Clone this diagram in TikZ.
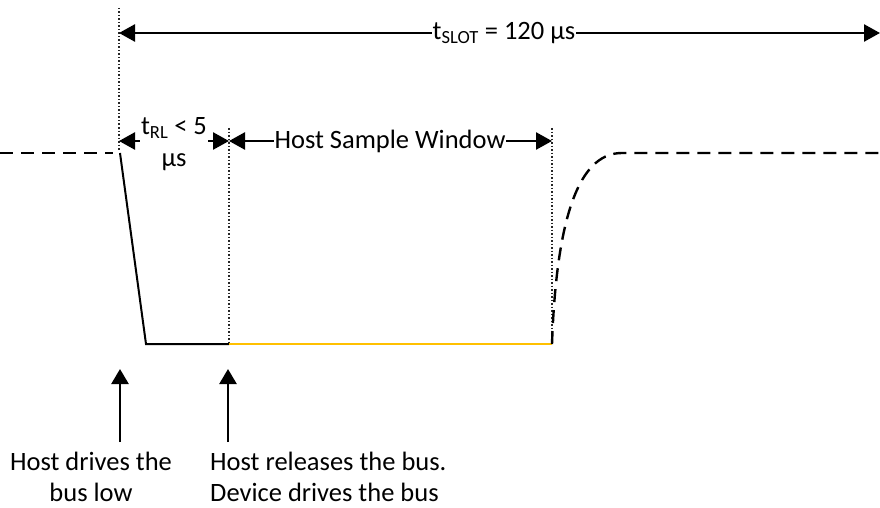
\documentclass[tikz,border=0pt]{standalone}
\usepackage{fontspec}
\setmainfont{Carlito}
\usetikzlibrary{arrows.meta}
\definecolor{lowgold}{HTML}{FFC000}
\tikzset{
  dimarrow/.style={line width=2.5pt,{Triangle[length=16pt,width=17pt]}-{Triangle[length=16pt,width=17pt]}},
  uparrow/.style={line width=2.5pt,-{Triangle[length=15pt,width=17pt]}},
  guide/.style={line width=1.5pt,dotted,black!85},
  highline/.style={line width=2.4pt,dash pattern=on 13pt off 8pt},
  wave/.style={line width=2pt},
  lbl/.style={font=\fontsize{26.5}{32}\selectfont,inner sep=1pt,fill=white},
  note/.style={font=\fontsize{26.5}{31}\selectfont,inner sep=0pt}
}
\begin{document}
\begin{tikzpicture}[x=1pt,y=-1pt]
\useasboundingbox (0,0) rectangle (880,508);
% coordinates
\coordinate (g1top) at (119,8);
\coordinate (g1bot) at (119,150);
\coordinate (g2top) at (229,128);
\coordinate (g2bot) at (229,344);
\coordinate (g3top) at (552,128);
\coordinate (g3bot) at (552,344);
\coordinate (hiL) at (0,153);
\coordinate (hiE) at (113,153);
\coordinate (fall) at (120,153);
\coordinate (lowA) at (146,344);
\coordinate (lowB) at (229,344);
\coordinate (lowC) at (552,344);
\coordinate (riseTop) at (622,153);
\coordinate (hiR) at (880,153);
\coordinate (slotL) at (119,33);
\coordinate (slotR) at (880,33);
\coordinate (trlL) at (119,141);
\coordinate (trlR) at (229,141);
\coordinate (hswR) at (552,141);
\coordinate (a1tip) at (120,369);
\coordinate (a1base) at (120,442);
\coordinate (a2tip) at (228,369);
\coordinate (a2base) at (228,442);
% guides
\draw[guide] (g1top) -- (g1bot);
\draw[guide] (g2top) -- (g2bot);
\draw[guide] (g3top) -- (g3bot);
% waveform
\draw[highline] (hiL) -- (hiE);
\draw[wave] (fall) -- (lowA) -- (lowB);
\draw[wave,lowgold] (lowB) -- (lowC);
\draw[highline] (lowC) .. controls (557,200) and (585,153) .. (riseTop) -- (hiR);
% dimension arrows
\draw[dimarrow] (slotL) -- (slotR);
\node[lbl] (slot) at (504,33) {t\textsubscript{SLOT} = 120 µs};
\draw[dimarrow] (trlL) -- (trlR);
\node[lbl,align=center] (trl) at (174,144) {t\textsubscript{RL} < 5\\µs};
\draw[dimarrow] (trlR) -- (hswR);
\node[lbl] (hsw) at (390,141) {Host Sample Window};
% event arrows
\draw[uparrow] (a1base) -- (a1tip);
\draw[uparrow] (a2base) -- (a2tip);
\node[note,align=center] (n1) at (91,477) {Host drives the\\bus low};
\node[note,align=left,anchor=west] (n2) at (210,477) {Host releases the bus.\\Device drives the bus};
\end{tikzpicture}
\end{document}
